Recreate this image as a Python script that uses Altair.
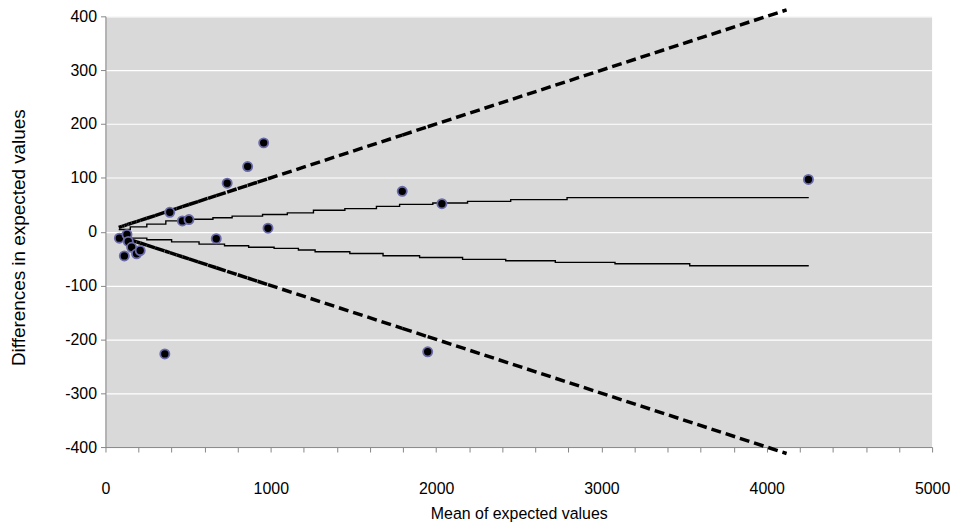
import altair as alt
import pandas as pd

# Scatter points (mean, difference)
pt_mean = [84, 114, 130, 138, 158, 188, 210, 359, 389, 465, 505, 670, 736, 860, 957, 983, 1795, 1949, 2035, 4252]
pt_diff = [-12, -45, -5, -18, -29, -41, -35, -227, 36, 20, 22.5, -13, 90, 121, 165, 6.5, 75, -223, 52, 97]

# Upper stepped limit
up_x = [80, 150, 250, 365, 500, 650, 766, 950, 1100, 1258, 1448, 1639, 1779, 1980, 2190, 2451, 2792, 4254]
up_y = [4, 9, 14, 20, 23, 26, 29, 32, 35, 39.7, 42.8, 47.1, 50.8, 53.3, 56.4, 59.5, 63.2, 63.2]

# Lower stepped limit
lo_x = [80, 150, 250, 400, 566, 720, 866, 1020, 1167, 1268, 1478, 1679, 1900, 2160, 2421, 2721, 3082, 3534, 4254]
lo_y = [-4, -12, -15, -19, -23, -26, -29, -31, -34, -37.3, -40.4, -44.7, -47.8, -51.4, -53.9, -57, -59.5, -63.2, -63.2]

# Dashed proportional limits (+/- 10% of mean), vertices along the mean axis
dash_x = [80, 100, 114, 130, 138, 158, 188, 210, 250, 300, 359, 389, 430, 465, 505, 560, 620, 670, 736,
          800, 860, 920, 983, 1795, 1949, 2035, 4120]
dash_slope = 0.1

FONT = "Liberation Sans"

pts = pd.DataFrame({"mean": pt_mean, "diff": pt_diff})
steps = pd.concat([
    pd.DataFrame({"mean": up_x, "diff": up_y, "s": "upper"}),
    pd.DataFrame({"mean": lo_x, "diff": lo_y, "s": "lower"}),
])
segs = []
for sign in (1, -1):
    for a, b in zip(dash_x[:-1], dash_x[1:]):
        segs.append({"x": a, "x2": b, "y": sign * dash_slope * a, "y2": sign * dash_slope * b})
segs = pd.DataFrame(segs)

xscale = alt.Scale(domain=[0, 5000], nice=False, zero=False)
yscale = alt.Scale(domain=[-400, 400], nice=False)

xaxis = alt.Axis(
    values=list(range(0, 5001, 200)), tickCount=40,
    labelExpr="datum.value % 1000 == 0 ? toString(datum.value) : ''",
    grid=False, tickSize=5, labelPadding=29, labelFontSize=16,
    labelFlush=False, labelOverlap=False,
    title="Mean of expected values", titleFontSize=16, titleFontWeight="normal",
    titlePadding=9,
)
yaxis = alt.Axis(
    values=list(range(-400, 401, 100)), tickCount=20,
    labelExpr="toString(datum.value)",
    grid=True, gridColor="white", gridWidth=1.2,
    tickSize=5, labelPadding=4, labelFontSize=16, labelOverlap=False,
    title="Differences in expected values", titleFontSize=19, titleFontWeight="normal",
    titleX=-77, titleY=222,
)

base_x = alt.X("mean:Q", scale=xscale, axis=xaxis)
base_y = alt.Y("diff:Q", scale=yscale, axis=yaxis)

step_layer = alt.Chart(steps).mark_line(
    interpolate="step-after", color="black", strokeWidth=1.4
).encode(x=base_x, y=base_y, detail="s:N")

dash_layer = alt.Chart(segs).mark_rule(
    color="black", strokeWidth=3.5, strokeDash=[10, 5]
).encode(
    x=alt.X("x:Q", scale=xscale), x2="x2:Q",
    y=alt.Y("y:Q", scale=yscale), y2="y2:Q",
)

pt_layer = alt.Chart(pts).mark_circle(
    size=85, color="black", opacity=1, stroke="#6b6bab", strokeWidth=1.8
).encode(x=base_x, y=base_y)

chart = alt.layer(step_layer, dash_layer, pt_layer).properties(
    width=831, height=433,
    autosize=alt.AutoSizeParams(type="none"),
    padding={"left": 98, "top": 7, "right": 18, "bottom": 81},
).configure_view(
    fill="#d9d9d9", stroke=None
).configure_axis(
    domainColor="#868686", tickColor="#868686", labelColor="black",
    titleColor="black", labelFont=FONT, titleFont=FONT,
)

chart.save("out.html", embed_options={"renderer": "svg", "actions": False})
